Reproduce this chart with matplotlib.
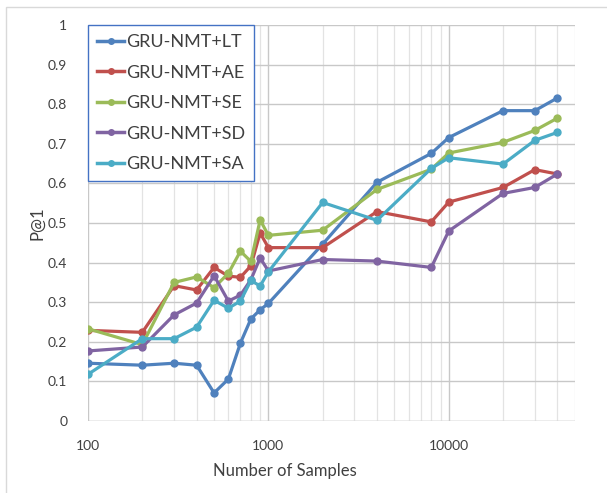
import matplotlib
matplotlib.use("Agg")
import matplotlib.pyplot as plt
import matplotlib.ticker as mticker
from matplotlib.patches import Rectangle

plt.rcParams['font.family'] = ['Lato', 'DejaVu Sans']

# sample sizes on the x axis
samples = [100, 200, 300, 400, 500, 600, 700, 800, 900, 1000,
           2000, 4000, 8000, 10000, 20000, 30000, 40000]

# P@1 values
lt = [0.146, 0.141, 0.146, 0.141, 0.071, 0.106, 0.197, 0.258, 0.281, 0.297,
      0.447, 0.603, 0.676, 0.716, 0.784, 0.784, 0.816]
ae = [0.229, 0.224, 0.342, 0.331, 0.388, 0.366, 0.363, 0.392, 0.475, 0.438,
      0.438, 0.529, 0.503, 0.553, 0.590, 0.635, 0.624]
se = [0.233, 0.193, 0.350, 0.364, 0.337, 0.373, 0.429, 0.403, 0.508, 0.469,
      0.482, 0.585, 0.636, 0.677, 0.704, 0.734, 0.765]
sd = [0.177, 0.187, 0.268, 0.298, 0.367, 0.303, 0.318, 0.357, 0.412, 0.379,
      0.408, 0.404, 0.388, 0.480, 0.575, 0.590, 0.624]
sa = [0.118, 0.208, 0.208, 0.237, 0.305, 0.285, 0.303, 0.355, 0.341, 0.377,
      0.552, 0.507, 0.638, 0.665, 0.649, 0.709, 0.729]

labels = ['GRU-NMT+LT', 'GRU-NMT+AE', 'GRU-NMT+SE', 'GRU-NMT+SD', 'GRU-NMT+SA']
colors = ['#4F81BD', '#C0504D', '#9BBB59', '#8064A2', '#4BACC6']

fig = plt.figure(figsize=(6.07, 4.93), dpi=100)
ax = fig.add_axes([0.145, 0.146, 0.802, 0.803])

# light frame around the chart area (only left/top visible in the original)
fig.patches.append(Rectangle((6 / 607, -0.05), 1.2, 1 - 7 / 493 + 0.05,
                             transform=fig.transFigure, fill=False,
                             edgecolor='#d9d9d9', linewidth=1))

for ys, lab, c in zip([lt, ae, se, sd, sa], labels, colors):
    ax.plot(samples, ys, color=c, linewidth=2.3, marker='o', markersize=5,
            label=lab)

ax.set_xscale('log')
ax.set_xlim(100, 50000)
ax.set_ylim(0, 1)
ax.yaxis.set_major_locator(mticker.MultipleLocator(0.1))
ax.yaxis.set_major_formatter(mticker.FuncFormatter(lambda v, p: f"{v:g}"))
ax.xaxis.set_major_locator(mticker.FixedLocator([100, 1000, 10000]))
ax.xaxis.set_major_formatter(mticker.FuncFormatter(lambda v, p: f"{int(v)}"))
ax.xaxis.set_minor_locator(mticker.LogLocator(base=10, subs=range(2, 10)))
ax.xaxis.set_minor_formatter(mticker.NullFormatter())

ax.grid(True, which='major', color='#c8c8c8', linewidth=1)
ax.grid(True, which='minor', axis='x', color='#e3e3e3', linewidth=0.9)
ax.set_axisbelow(True)
for s in ax.spines.values():
    s.set_visible(False)
ax.axhline(0, color='#d0d0d0', linewidth=1, zorder=0)
ax.tick_params(which='both', length=0, labelsize=10, colors='#404040')
ax.tick_params(axis='y', pad=15)
ax.tick_params(axis='x', pad=14)

fig.text(37 / 607, 1 - 223 / 493, 'P@1', rotation=90, ha='center', va='center',
         fontsize=12, color='#404040')
fig.text(285 / 607, 1 - 471 / 493, 'Number of Samples', ha='center',
         va='center', fontsize=12, color='#404040')

leg = ax.legend(loc='upper left', bbox_to_anchor=(0, 1), borderaxespad=0,
                fontsize=13, handlelength=1.5, handletextpad=0.1,
                labelspacing=0.8, borderpad=0.5, fancybox=False,
                framealpha=1, edgecolor='#4472C4')
leg.get_frame().set_linewidth(1.0)
for h in leg.get_lines():
    h.set_markersize(4)
    h.set_linewidth(2.5)
for t in leg.get_texts():
    t.set_color('#404040')

fig.savefig('out.png', dpi=100, facecolor='white')
